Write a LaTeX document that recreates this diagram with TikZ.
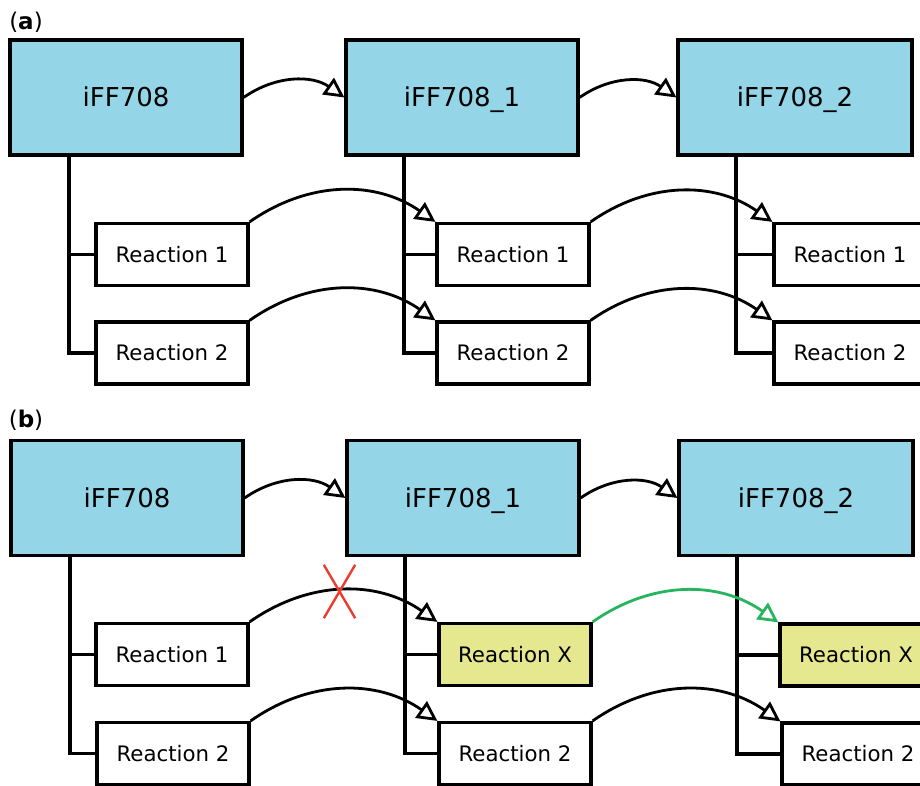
\documentclass[tikz,border=0pt]{standalone}
\usepackage{fontspec}
\setmainfont{DejaVu Sans}
\usetikzlibrary{arrows.meta,calc,shapes.misc}

\definecolor{modelblue}{RGB}{148,214,232}
\definecolor{rxyellow}{RGB}{229,232,143}
\definecolor{okgreen}{RGB}{40,180,95}
\definecolor{xred}{RGB}{235,60,45}

\begin{document}
\begin{tikzpicture}[x=1pt,y=-1pt,
  model/.style={draw=black, line width=3.2pt, fill=modelblue, minimum width=232pt, minimum height=115pt, inner sep=0pt, text height=19pt, text depth=0pt, font=\fontsize{26}{30}\selectfont},
  rx/.style={draw=black, line width=3.2pt, fill=white, minimum width=152pt, minimum height=62pt, inner sep=0pt, text height=15.5pt, text depth=0pt, font=\fontsize{21.3}{25}\selectfont},
  rxnew/.style={rx, fill=rxyellow},
  flow/.style={line width=2.8pt, -{Triangle[fill=white,length=20pt,width=20pt,line join=miter]}},
  newflow/.style={flow, draw=okgreen},
  branch/.style={line width=3.2pt},
  plabel/.style={font=\fontsize{23}{27}\selectfont, inner sep=0pt},
  cut/.style={cross out, draw=xred, line width=2.4pt, minimum width=29pt, minimum height=51pt, inner sep=0pt}
]
\useasboundingbox (0,0) rectangle (920,786);
\clip (0,0) rectangle (920,786);

% ---------------- panel (a) ----------------
\node[plabel] (la) at (26,22.5) {(\textbf{a})};

\node[model] (A0) at (126,97.5) {iFF708};
\node[model] (A1) at (462,97.5) {iFF708\_1};
\node[model, minimum width=234pt] (A2) at (795,97.5) {iFF708\_2};

\node[rx] (a01) at (172,254.5) {Reaction 1};
\node[rx] (a02) at (172,353) {Reaction 2};
\node[rx] (a11) at (513,254.5) {Reaction 1};
\node[rx] (a12) at (513,353) {Reaction 2};
\node[rx] (a21) at (850,254.5) {Reaction 1};
\node[rx] (a22) at (850,353) {Reaction 2};

\coordinate (ta0) at (69,155);
\coordinate (ta1) at (404,155);
\coordinate (ta2) at (736,155);

\foreach \c in {0,1,2}{
  \draw[branch] (ta\c) |- (a\c2.west);
  \draw[branch] (ta\c |- a\c1.west) -- (a\c1.west);
}

\draw[flow] (A0.east) to[bend left=35] (A1.west);
\draw[flow] (A1.east) to[bend left=35] (A2.west);
\draw[flow] (a01.north east) to[bend left=35] (a11.north west);
\draw[flow] (a02.north east) to[bend left=35] (a12.north west);
\draw[flow] (a11.north east) to[bend left=35] (a21.north west);
\draw[flow] (a12.north east) to[bend left=35] (a22.north west);

% ---------------- panel (b) ----------------
\node[plabel] (lb) at (26,420) {(\textbf{b})};

\node[model] (B0) at (127,498) {iFF708};
\node[model] (B1) at (463,498) {iFF708\_1};
\node[model, minimum width=234pt] (B2) at (796,498) {iFF708\_2};

\node[rx] (b01) at (172,654.5) {Reaction 1};
\node[rx] (b02) at (173,753.5) {Reaction 2};
\node[rxnew] (b11) at (515,654.5) {Reaction X};
\node[rx] (b12) at (515,753.5) {Reaction 2};
\node[rxnew] (b21) at (856,655) {Reaction X};
\node[rx] (b22) at (858,754) {Reaction 2};

\coordinate (tb0) at (70,556);
\coordinate (tb1) at (405,556);
\coordinate (tb2) at (737,556);

\foreach \c in {0,1,2}{
  \draw[branch] (tb\c) |- (b\c2.west);
  \draw[branch] (tb\c |- b\c1.west) -- (b\c1.west);
}

\draw[flow] (B0.east) to[bend left=35] (B1.west);
\draw[flow] (B1.east) to[bend left=35] (B2.west);
\draw[flow] (b01.north east) to[bend left=35] (b11.north west);
\draw[flow] (b02.north east) to[bend left=35] (b12.north west);
\draw[newflow] (b11.north east) to[bend left=35] (b21.north west);
\draw[flow] (b12.north east) to[bend left=35] (b22.north west);

\node[cut] (x1) at (339.5,591.5) {};
\end{tikzpicture}
\end{document}
